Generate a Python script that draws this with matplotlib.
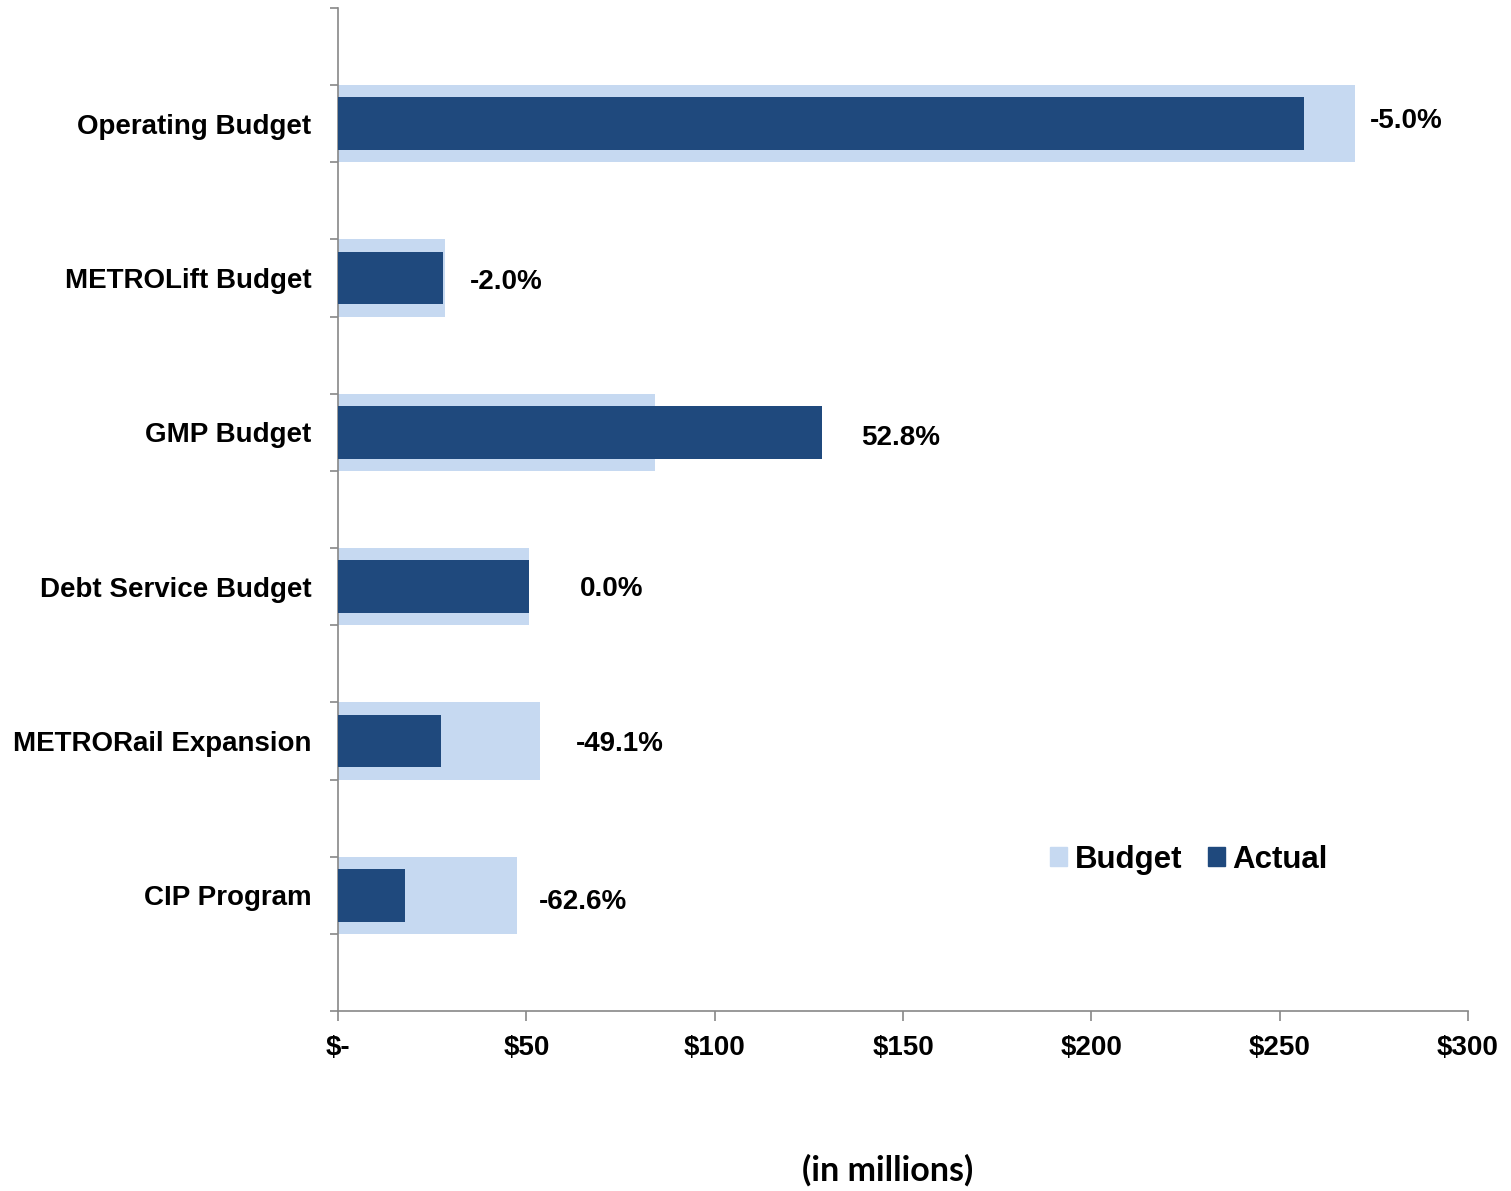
import matplotlib
matplotlib.use("Agg")
import matplotlib.pyplot as plt
import numpy as np
from matplotlib.patches import Patch

# data (in millions), top to bottom as shown
categories = ['Operating Budget', 'METROLift Budget', 'GMP Budget',
              'Debt Service Budget', 'METRORail Expansion', 'CIP Program']
budget = [270.0, 28.4, 84.2, 50.7, 53.6, 47.5]
actual = [256.5, 27.8, 128.6, 50.7, 27.3, 17.8]
pct_labels = ['-5.0%', '-2.0%', '52.8%', '0.0%', '-49.1%', '-62.6%']
xtick_vals = [0, 50, 100, 150, 200, 250, 300]
xtick_labels = ['$-', '$50', '$100', '$150', '$200', '$250', '$300']

# where the % labels sit: x start in axis units, vertical nudge in points
label_x = [274, 35, 139, 64.2, 63.2, 53.4]
label_dy = [2, -3, -4, -2, -2, -5]

budget_color = '#C6D9F1'
actual_color = '#1F497D'
axis_gray = '#888888'

plt.rcParams['font.family'] = ['Liberation Sans', 'DejaVu Sans']

fig = plt.figure(figsize=(15.11, 11.91), dpi=100)
ax = fig.add_axes([338 / 1511, 1 - 1011 / 1191, 1130 / 1511, 1003 / 1191])

y = np.arange(len(categories))[::-1]
ax.barh(y, budget, height=0.5, color=budget_color, zorder=2)
ax.barh(y, actual, height=0.34, color=actual_color, zorder=3)

for yi, lx, dy, lab in zip(y, label_x, label_dy, pct_labels):
    ax.annotate(lab, (lx, yi), xytext=(0, dy), textcoords='offset points',
                ha='left', va='center', fontsize=20, fontweight='bold',
                color='black')

ax.set_xlim(0, 300)
ax.set_ylim(-0.75, 5.75)

ax.set_xticks(xtick_vals)
ax.set_xticklabels(xtick_labels, fontsize=20, fontweight='bold')
ax.set_yticks(y)
ax.set_yticklabels(categories, fontsize=20, fontweight='bold')
ax.set_yticks(np.arange(-0.75, 5.76, 0.5), minor=True)

ax.tick_params(axis='y', which='major', length=0, pad=19)
ax.tick_params(axis='y', which='minor', length=6, width=1.2, color=axis_gray)
ax.tick_params(axis='x', which='major', length=7, width=1.2, color=axis_gray, pad=10)

for side in ['top', 'right']:
    ax.spines[side].set_visible(False)
for side in ['left', 'bottom']:
    ax.spines[side].set_color(axis_gray)
    ax.spines[side].set_linewidth(1.2)

handles = [Patch(color=budget_color, label='Budget'),
           Patch(color=actual_color, label='Actual')]
fig.legend(handles=handles, loc='center left', bbox_to_anchor=(0.695, 0.278),
           ncol=2, frameon=False,
           prop={'family': 'Liberation Sans', 'weight': 'bold', 'size': 22.5},
           handlelength=0.55, handleheight=0.55, handletextpad=0.25,
           columnspacing=0.8, borderpad=0, borderaxespad=0)

fig.text(888 / 1511, 1 - 1170 / 1191, '(in millions)', ha='center', va='center',
         fontsize=24.5, fontweight='bold', family=['Lato', 'DejaVu Sans'])

fig.savefig('out.png', dpi=100)
